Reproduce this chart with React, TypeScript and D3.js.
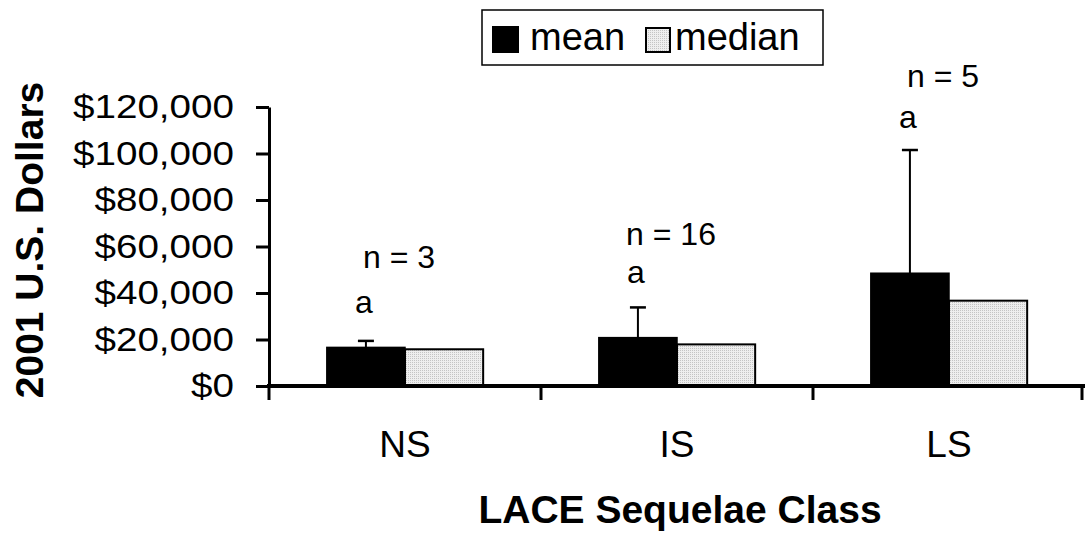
import React, { useEffect, useRef } from 'react';
import * as d3 from 'd3';

const categories = ['NS', 'IS', 'LS'];
const series = ['mean', 'median'];
const meanValues = [16600, 20800, 48500];
const medianValues = [15800, 17900, 36700];
const errorTops = [19400, 33800, 101500];
const sampleLabels = ['n = 3', 'n = 16', 'n = 5'];
const groupLetters = ['a', 'a', 'a'];
// where the annotations sit, in dollars on the y scale
const letterHeights = [31400, 44300, 111000];
const sampleHeights = [50700, 60600, 128600];
const yTicks = [0, 20000, 40000, 60000, 80000, 100000, 120000];

const FONT = '"Liberation Sans", Arial, sans-serif';

const App: React.FC = () => {
  const ref = useRef<SVGSVGElement>(null);

  useEffect(() => {
    const svg = d3.select(ref.current);
    svg.selectAll('*').remove();

    const defs = svg.append('defs');
    const pat = defs.append('pattern').attr('id', 'dots').attr('width', 2).attr('height', 2)
      .attr('patternUnits', 'userSpaceOnUse');
    pat.append('rect').attr('width', 2).attr('height', 2).attr('fill', '#eeeeee');
    pat.append('rect').attr('width', 1).attr('height', 1).attr('fill', '#c4c4c4');

    const x0 = d3.scaleBand().domain(categories).range([269, 1085]).padding(0);
    const x1 = d3.scaleBand().domain(series).range([0, x0.bandwidth()]).paddingInner(0).paddingOuter(0.74);
    const y = d3.scaleLinear().domain([0, 120000]).range([386, 107]);

    const rows = categories.map((c, i) => ({
      c, mean: meanValues[i], median: medianValues[i], err: errorTops[i],
      n: sampleLabels[i], letter: groupLetters[i], lh: letterHeights[i], nh: sampleHeights[i],
    }));

    const g = svg.append('g');
    rows.forEach((r) => {
      const gx = x0(r.c)!;
      const mx = gx + x1('mean')! + x1.bandwidth() / 2;
      // error bar
      g.append('line').attr('x1', mx).attr('x2', mx).attr('y1', y(r.mean)).attr('y2', y(r.err))
        .attr('stroke', '#000').attr('stroke-width', 2);
      g.append('line').attr('x1', mx - 8).attr('x2', mx + 8).attr('y1', y(r.err)).attr('y2', y(r.err))
        .attr('stroke', '#000').attr('stroke-width', 2.5);
      g.append('rect').attr('x', gx + x1('mean')!).attr('y', y(r.mean)).attr('width', x1.bandwidth())
        .attr('height', y(0) - y(r.mean)).attr('fill', '#000').attr('stroke', '#000').attr('stroke-width', 1.5);
      g.append('rect').attr('x', gx + x1('median')!).attr('y', y(r.median)).attr('width', x1.bandwidth())
        .attr('height', y(0) - y(r.median)).attr('fill', 'url(#dots)').attr('stroke', '#000').attr('stroke-width', 2);
      g.append('text').attr('x', mx - 2).attr('y', y(r.lh)).attr('text-anchor', 'middle')
        .attr('font-family', FONT).attr('font-size', 32).text(r.letter);
      g.append('text').attr('x', gx + x1('median')! - 6).attr('y', y(r.nh)).attr('text-anchor', 'middle')
        .attr('font-family', FONT).attr('font-size', 32).text(r.n);
    });

    // y axis
    const yAxis = svg.append('g').attr('transform', 'translate(269,0)')
      .call(d3.axisLeft(y).tickValues(yTicks).tickSize(13).tickSizeOuter(0)
        .tickFormat((d) => '$' + d3.format(',')(d as number)));
    yAxis.select('.domain').attr('stroke-width', 3);
    yAxis.selectAll('.tick line').attr('stroke-width', 3);
    yAxis.selectAll('.tick text').attr('x', 0)
      .attr('transform', 'translate(-35,0) scale(1.17,1)')
      .attr('font-family', FONT).attr('font-size', 33).attr('fill', '#000');

    // x axis
    const xAxis = svg.append('g').attr('transform', 'translate(0,386)');
    xAxis.append('line').attr('x1', 267).attr('x2', 1085).attr('stroke', '#000').attr('stroke-width', 4);
    const xTickPos = [...categories.map((c) => x0(c)!), x0.range()[1] - 3];
    xAxis.selectAll('.xt').data(xTickPos).enter().append('line')
      .attr('x1', (d) => d).attr('x2', (d) => d).attr('y1', 0).attr('y2', 14)
      .attr('stroke', '#000').attr('stroke-width', 3);
    xAxis.selectAll('.xl').data(categories).enter().append('text')
      .attr('x', (d) => x0(d)! + x0.bandwidth() / 2).attr('y', 71).attr('text-anchor', 'middle')
      .attr('font-family', FONT).attr('font-size', 37).text((d) => d);

    // titles
    svg.append('text').attr('x', 680).attr('y', 523).attr('text-anchor', 'middle')
      .attr('font-family', FONT).attr('font-size', 39).attr('font-weight', 'bold').text('LACE Sequelae Class');
    svg.append('text').attr('transform', 'translate(43,240) rotate(-90)').attr('text-anchor', 'middle')
      .attr('font-family', FONT).attr('font-size', 39).attr('font-weight', 'bold').text('2001 U.S. Dollars');

    // legend
    const lg = svg.append('g');
    lg.append('rect').attr('x', 482).attr('y', 10).attr('width', 341).attr('height', 55)
      .attr('fill', '#fff').attr('stroke', '#000').attr('stroke-width', 1.5);
    lg.append('rect').attr('x', 492).attr('y', 26).attr('width', 27).attr('height', 27).attr('fill', '#000');
    lg.append('text').attr('x', 530).attr('y', 50).attr('font-family', FONT).attr('font-size', 38).text(series[0]);
    lg.append('rect').attr('x', 646).attr('y', 28).attr('width', 24).attr('height', 24)
      .attr('fill', 'url(#dots)').attr('stroke', '#000').attr('stroke-width', 2);
    lg.append('text').attr('x', 675).attr('y', 50).attr('font-family', FONT).attr('font-size', 38).text(series[1]);
  }, []);

  return (
    <svg ref={ref} width={1088} height={537}
      style={{ position: 'absolute', left: 0, top: 0, background: '#fff' }} />
  );
};

export default App;
